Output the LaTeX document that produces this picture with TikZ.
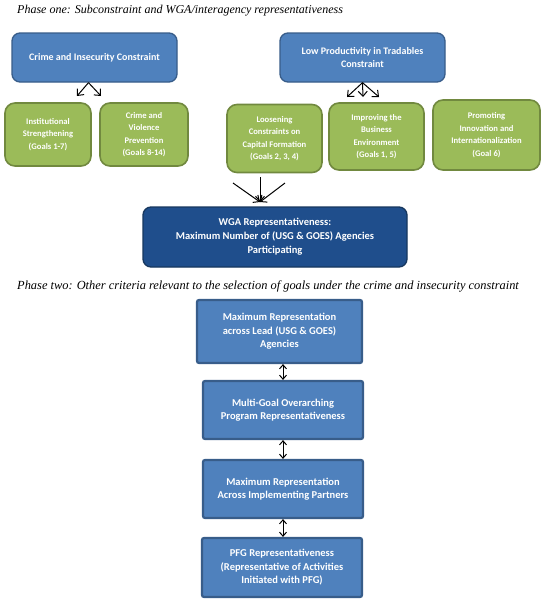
\documentclass[tikz,border=0pt]{standalone}
\usepackage{fontspec}
\setmainfont{Liberation Serif}
\newfontfamily\boxfont{Carlito}
\usetikzlibrary{arrows.meta}
\definecolor{bluefill}{HTML}{4F81BD}
\definecolor{blueline}{HTML}{385D8A}
\definecolor{greenfill}{HTML}{9BBB59}
\definecolor{greenline}{HTML}{71893F}
\definecolor{darkfill}{HTML}{1F4E8C}
\definecolor{darkline}{HTML}{17375E}
\tikzset{
  topbox/.style={draw=blueline, fill=bluefill, line width=1.3pt, rounded corners=8pt,
    text=white, font=\boxfont\bfseries\fontsize{10}{13}\selectfont, align=center, inner sep=2pt},
  goalbox/.style={draw=greenline, fill=greenfill, line width=1.6pt, rounded corners=10pt,
    text=white, font=\boxfont\bfseries\fontsize{8.6}{12.5}\selectfont, align=center, inner sep=2pt},
  wgabox/.style={draw=darkline, fill=darkfill, line width=1.3pt, rounded corners=8pt,
    text=white, font=\boxfont\bfseries\fontsize{10.5}{14}\selectfont, align=center, inner sep=2pt},
  critbox/.style={draw=blueline, fill=bluefill, line width=2.2pt, rounded corners=2pt,
    text=white, font=\boxfont\bfseries\fontsize{10.5}{13.5}\selectfont, align=center, inner sep=2pt},
  phasetitle/.style={anchor=west, font=\itshape, inner sep=0pt},
  arr/.style={-{Straight Barb[length=5pt,width=9pt]}, line width=1pt},
  darr/.style={{Straight Barb[length=4pt,width=7pt]}-{Straight Barb[length=4pt,width=7pt]}, line width=1pt}
}
\begin{document}
\begin{tikzpicture}[x=1pt,y=-1pt]
\useasboundingbox (0,0) rectangle (542,603);
\fill[white] (0,0) rectangle (542,603);

\node[phasetitle] (t1) at (17,11) {\fontsize{12}{14}\selectfont Phase one: Subconstraint and WGA/interagency representativeness};

\node[topbox, minimum width=165pt, minimum height=49pt] (A) at (94.5,57.5) {Crime and Insecurity Constraint};
\node[topbox, minimum width=165pt, minimum height=49pt] (B) at (362.5,57.5) {Low Productivity in Tradables\\Constraint};

\node[goalbox, minimum width=86pt, minimum height=63pt] (G1) at (48,134.5) {Institutional\\Strengthening\\(Goals 1-7)};
\node[goalbox, minimum width=88pt, minimum height=63pt] (G2) at (144,134.5) {Crime and\\Violence\\Prevention\\(Goals 8-14)};
\node[goalbox, minimum width=95pt, minimum height=68pt] (G3) at (274.5,138.5) {Loosening\\Constraints on\\Capital Formation\\(Goals 2, 3, 4)};
\node[goalbox, minimum width=95pt, minimum height=67pt] (G4) at (376.5,136.5) {Improving the\\Business\\Environment\\(Goals 1, 5)};
\node[goalbox, minimum width=107pt, minimum height=70pt] (G5) at (486.5,135) {Promoting\\Innovation and\\Internationalization\\(Goal 6)};

\node[wgabox, minimum width=264pt, minimum height=60pt] (W) at (275,237) {WGA Representativeness:\\Maximum Number of (USG \& GOES) Agencies\\Participating};

\node[phasetitle] (t2) at (17,286) {\fontsize{12.4}{14}\selectfont Phase two: Other criteria relevant to the selection of goals under the crime and insecurity constraint};

\node[critbox, minimum width=165pt, minimum height=63pt] (C1) at (279.5,331.5) {Maximum Representation\\across Lead (USG \& GOES)\\Agencies};
\node[critbox, minimum width=160pt, minimum height=58pt] (C2) at (283,410) {Multi-Goal Overarching\\Program Representativeness};
\node[critbox, minimum width=160pt, minimum height=58pt] (C3) at (283,489) {Maximum Representation\\Across Implementing Partners};
\node[critbox, minimum width=160pt, minimum height=59pt] (C4) at (282,567.5) {PFG Representativeness\\(Representative of Activities\\Initiated with PFG)};

% arrows from constraint A
\coordinate (a1) at (77,96);
\coordinate (a2) at (101,96);
\draw[arr] ([xshift=-6pt]A.south) -- (a1);
\draw[arr] ([xshift=-6pt]A.south) -- (a2);
% arrows from constraint B
\coordinate (b1) at (347,97);
\coordinate (b2) at (363,97);
\coordinate (b3) at (379,97);
\draw[arr] (B.south) -- (b1);
\draw[arr] (B.south) -- (b2);
\draw[arr] (B.south) -- (b3);
% arrows converging to WGA
\coordinate (w1) at (233,183);
\coordinate (w2) at (260,177);
\coordinate (w3) at (285,183);
\coordinate (wt) at (260,202);
\draw[arr] (w1) -- (wt);
\draw[arr] (w2) -- (wt);
\draw[arr] (w3) -- (wt);

% double arrows in phase two
\draw[darr] (C1.south -| C2.north) -- (C2.north);
\draw[darr] (C2.south) -- (C3.north);
\draw[darr] (C3.south) -- (C3.south |- C4.north);
\end{tikzpicture}
\end{document}
